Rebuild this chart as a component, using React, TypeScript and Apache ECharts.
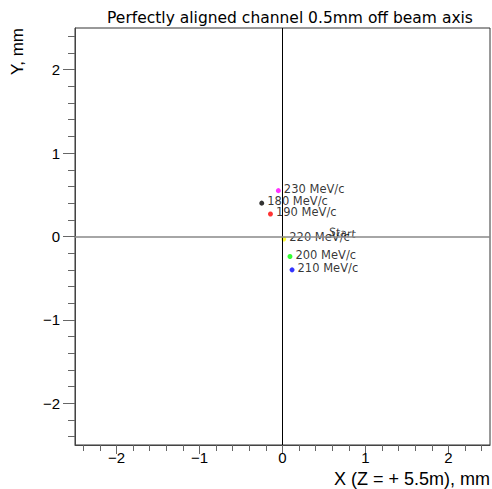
import React, { useEffect, useRef } from "react";
import * as echarts from "echarts";

const titleText = "Perfectly aligned channel 0.5mm off beam axis";
const xTitle = "X (Z = + 5.5m), mm";
const yTitle = "Y, mm";

const momenta = [180, 190, 200, 210, 220, 230];
const xValues = [-0.25, -0.145, 0.09, 0.115, 0.015, -0.05];
const yValues = [0.4, 0.27, -0.24, -0.4, -0.03, 0.55];
const pointColors = ["#000000", "#ff0000", "#00ff00", "#0000ff", "#ffff00", "#ff00ff"];

const startLabel = "Start";
const startX = 0.72;
const startY = 0.04;

const axisMin = -2.5;
const axisMax = 2.5;
const majorTicks = [-2, -1, 0, 1, 2];
const minorTicks = [-2.4, -2.2, -1.8, -1.6, -1.4, -1.2, -0.8, -0.6, -0.4, -0.2, 0.2, 0.4, 0.6, 0.8, 1.2, 1.4, 1.6, 1.8, 2.2, 2.4];

const fmt = (v: number) => (v < 0 ? "\u2212" + Math.abs(v) : String(v));

export default function App() {
  const ref = useRef<HTMLDivElement>(null);
  useEffect(() => {
    if (!ref.current) return;
    const chart = echarts.init(ref.current, null, { renderer: "svg" });
    const font = "Liberation Sans, Arial, sans-serif";
    const axisLineColor = "#444";
    const tickColor = "#666";
    const mkX = (major: boolean) => ({
      type: "value",
      min: axisMin,
      max: axisMax,
      position: "bottom",
      axisLine: { show: major, onZero: false, lineStyle: { color: axisLineColor, width: 1 } },
      axisTick: {
        show: true,
        inside: false,
        length: major ? 9 : 6,
        customValues: major ? majorTicks : minorTicks,
        lineStyle: { color: tickColor },
      },
      axisLabel: {
        show: major,
        customValues: majorTicks,
        formatter: fmt,
        fontSize: 15,
        fontFamily: font,
        color: "#000",
        margin: 5,
      },
      splitLine: { show: false },
    });
    const mkY = (major: boolean) => ({
      type: "value",
      min: axisMin,
      max: axisMax,
      position: "left",
      axisLine: { show: major, onZero: false, lineStyle: { color: axisLineColor, width: 1 } },
      axisTick: {
        show: true,
        inside: false,
        length: major ? 12 : 7,
        customValues: major ? majorTicks : minorTicks,
        lineStyle: { color: tickColor },
      },
      axisLabel: {
        show: major,
        customValues: majorTicks,
        formatter: fmt,
        fontSize: 15,
        fontFamily: font,
        color: "#000",
        margin: 15,
      },
      splitLine: { show: false },
    });

    const points = momenta.map((m, i) => ({
      value: [xValues[i], yValues[i]],
      name: m + " MeV/c",
      itemStyle: { color: pointColors[i] },
    }));

    chart.setOption({
      animation: false,
      backgroundColor: "#fff",
      grid: {
        left: 75,
        right: 2,
        top: 28,
        bottom: 44,
        show: true,
        borderColor: "#333",
        borderWidth: 1,
        backgroundColor: "transparent",
      },
      title: {
        text: titleText,
        left: 285,
        textAlign: "center",
        top: 5,
        textStyle: { fontSize: 15.5, fontWeight: "normal", fontFamily: "DejaVu Sans", color: "#000" },
      },
      xAxis: [mkX(true), mkX(false)],
      yAxis: [mkY(true), mkY(false)],
      graphic: [
        {
          type: "text",
          right: 2,
          top: 470,
          style: { text: xTitle, fontSize: 18, fontFamily: font, fill: "#000" },
        },
        {
          type: "text",
          x: 17,
          y: 28,
          rotation: Math.PI / 2,
          style: { text: yTitle, fontSize: 17, fontFamily: font, fill: "#000", align: "right", verticalAlign: "middle" },
        },
      ],
      series: [
        {
          type: "line",
          xAxisIndex: 0,
          yAxisIndex: 0,
          data: [],
          silent: true,
          z: 1,
          markLine: {
            symbol: "none",
            silent: true,
            label: { show: false },
            data: [
              { xAxis: 0, lineStyle: { color: "#000", width: 1, type: "solid" } },
              { yAxis: 0, lineStyle: { color: "#888", width: 1.5, type: "solid" } },
            ],
          },
        },
        {
          type: "scatter",
          xAxisIndex: 0,
          yAxisIndex: 0,
          symbolSize: 5,
          z: 3,
          data: points,
          label: {
            show: true,
            position: "right",
            distance: 3,
            offset: [0, -2],
            formatter: (p: any) => p.name,
            fontSize: 11.5,
            fontFamily: "DejaVu Sans",
            color: "#000",
          },
        },
        {
          type: "scatter",
          xAxisIndex: 0,
          yAxisIndex: 0,
          symbolSize: 0,
          z: 3,
          data: [{ value: [startX, startY], name: startLabel }],
          label: {
            show: true,
            position: "inside",
            rotate: -6,
            formatter: (p: any) => p.name,
            fontSize: 11,
            fontFamily: "DejaVu Sans",
            color: "#000",
          },
        },
      ],
    });
    return () => chart.dispose();
  }, []);
  return (
    <div
      ref={ref}
      style={{ position: "fixed", left: 0, top: 0, width: 492, height: 489, background: "#fff" }}
    />
  );
}
